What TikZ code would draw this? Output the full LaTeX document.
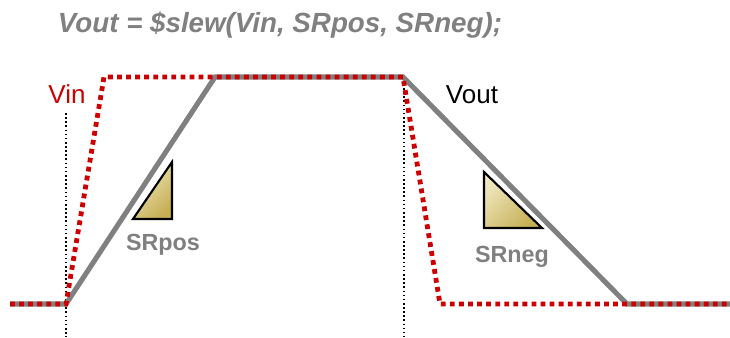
\documentclass[tikz,border=0pt]{standalone}
\usepackage{fontspec}
\setmainfont{Liberation Sans}
\definecolor{wavegray}{HTML}{808080}
\definecolor{vinred}{HTML}{CC0000}
\definecolor{tanlight}{HTML}{F0E7BE}
\definecolor{tandark}{HTML}{C6AF55}

\begin{document}
\begin{tikzpicture}[x=0.75pt, y=-0.75pt,
  vout/.style={line width=3.8pt, wavegray},
  vin/.style={line width=3.6pt, vinred, dash pattern=on 3.6pt off 3.2pt},
  marker/.style={black, line width=1.2pt, dash pattern=on 1.2pt off 1.9pt},
  slope/.style={draw, line width=1.6pt, line join=miter, top color=tanlight, bottom color=tandark, shading angle=45},
  lbl/.style={inner sep=0pt, anchor=base}]
\useasboundingbox (0,0) rectangle (730,337);
% corner points of both waveforms
\coordinate (lo) at (10,304);
\coordinate (t0) at (66,304);
\coordinate (inup) at (104,77);
\coordinate (outup) at (215,77);
\coordinate (t1) at (403,77);
\coordinate (indn) at (440,304);
\coordinate (outdn) at (627,304);
\coordinate (hi) at (730,304);
\coordinate (m0) at (66,113);
\coordinate (m0b) at (66,337);
\coordinate (m1) at (404,88);
\coordinate (m1b) at (404,337);
\node[lbl, font=\fontsize{20.8}{24}\selectfont\bfseries\itshape, text=wavegray] (call) at (280,32) {Vout = \$slew(Vin, SRpos, SRneg);};
\draw[marker] (m0) -- (m0b);
\draw[marker] (m1) -- (m1b);
\draw[vout] (lo) -- (t0) -- (outup) -- (t1) -- (outdn) -- (hi);
\draw[vin] (lo) -- (t0) -- (inup) -- (t1) -- (indn) -- (hi);
\node[lbl, font=\fontsize{19.5}{22}\selectfont, text=vinred] (vinlbl) at (67,103) {Vin};
\node[lbl, font=\fontsize{19.5}{22}\selectfont] (voutlbl) at (472,103) {Vout};
\draw[slope] (133,219) -- (172,219) -- (172,162) -- cycle;
\draw[slope] (484,172) -- (484,228) -- (542,228) -- cycle;
\node[lbl, font=\fontsize{17.5}{20}\selectfont\bfseries, text=wavegray] (srpos) at (163,250) {SRpos};
\node[lbl, font=\fontsize{17.5}{20}\selectfont\bfseries, text=wavegray] (srneg) at (512,262) {SRneg};
\end{tikzpicture}
\end{document}
